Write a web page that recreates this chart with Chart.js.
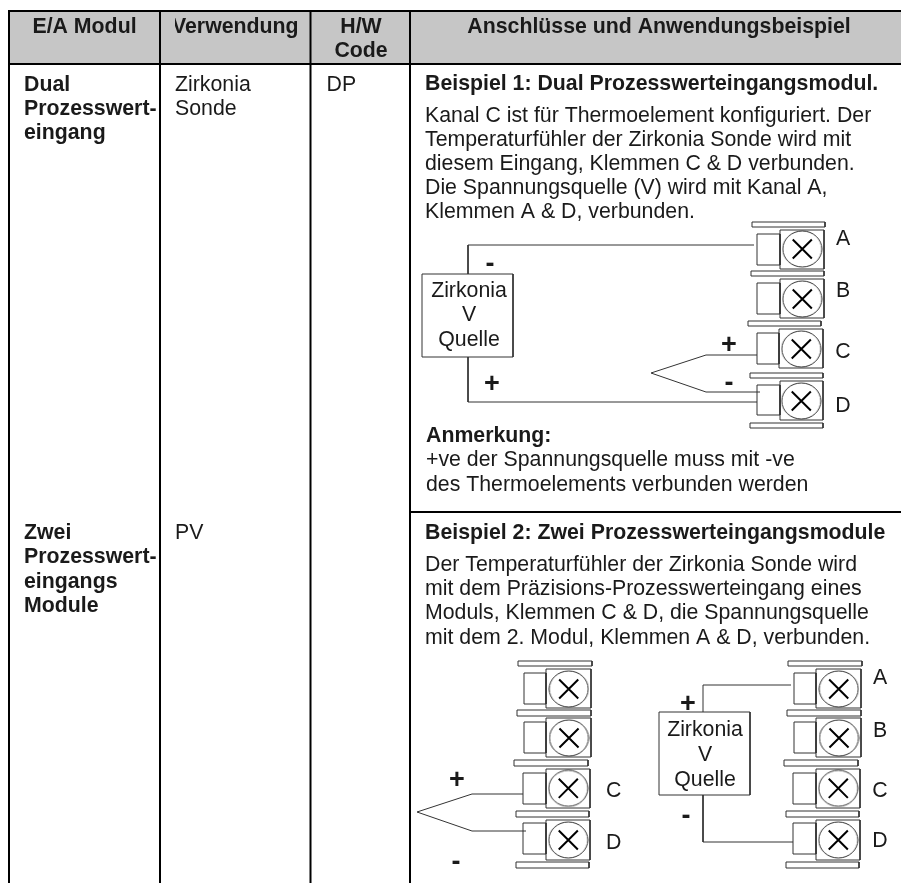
<!DOCTYPE html>
<html>
<head>
<meta charset="utf-8">
<title>E/A Modul</title>
<script src="https://cdn.jsdelivr.net/npm/chart.js@4"></script>
<style>
    html, body { margin: 0; padding: 0; background: #fff; }
    canvas { display: block; }
</style>
</head>
<body>
<canvas id="chart" width="901" height="883"></canvas>
<script>
// Table text
const headerLabels = ['E/A Modul', 'Verwendung', 'H/W', 'Code', 'Anschlüsse und Anwendungsbeispiel'];
const moduleOne = ['Dual', 'Prozesswert-', 'eingang'];
const moduleTwo = ['Zwei', 'Prozesswert-', 'eingangs', 'Module'];
const useOne = ['Zirkonia', 'Sonde'];
const useTwo = ['PV'];
const hwCode = ['DP'];
const titleOne = 'Beispiel 1: Dual Prozesswerteingangsmodul.';
const bodyOne = [
    'Kanal C ist für Thermoelement konfiguriert. Der',
    'Temperaturfühler der Zirkonia Sonde wird mit',
    'diesem Eingang, Klemmen C & D verbunden.',
    'Die Spannungsquelle (V) wird mit Kanal A,',
    'Klemmen A & D, verbunden.'
];
const noteTitle = 'Anmerkung:';
const noteLines = ['+ve der Spannungsquelle muss mit -ve', 'des Thermoelements verbunden werden'];
const titleTwo = 'Beispiel 2: Zwei Prozesswerteingangsmodule';
const bodyTwo = [
    'Der Temperaturfühler der Zirkonia Sonde wird',
    'mit dem Präzisions-Prozesswerteingang eines',
    'Moduls, Klemmen C & D, die Spannungsquelle',
    'mit dem 2. Modul, Klemmen A & D, verbunden.'
];
const sourceLines = ['Zirkonia', 'V', 'Quelle'];
const terminalNames = ['A', 'B', 'C', 'D'];

// Table rules, as [x0, y0, x1, y1] on the page scale
const tableRules = [
    [8, 11, 901, 11], [8, 64, 901, 64], [410, 512, 901, 512],
    [9, 11, 9, 883], [160, 11, 160, 883], [310.5, 11, 310.5, 883], [410, 11, 410, 883]
];
const headerBand = [[9, 11], [901, 11], [901, 64], [9, 64]];

// Terminal blocks of each diagram, [left, right, top, bottom]
const spacers1 = [[752, 825, 222, 227], [751, 824, 271, 276], [748, 821, 321, 326], [750, 823, 373, 378], [750, 823, 423, 428]];
const housings1 = [[780, 824, 230, 269], [780, 824, 279, 318], [779, 823, 329, 368], [780, 823, 381, 420]];
const plugs1 = [[757, 780, 234, 265], [757, 780, 283, 314], [757, 779, 333, 364], [757, 780, 385, 415]];
const screws1 = [[802.3, 249], [802.3, 299], [801.3, 349], [801.3, 401]];

const spacers2 = [[518, 592, 661, 666], [517, 591, 710, 716], [514, 588, 760, 766], [516, 589, 811, 817], [516, 589, 862, 868]];
const housings2 = [[546, 591, 669, 708], [546, 591, 718, 757], [546, 590, 769, 808], [546, 590, 820, 860]];
const plugs2 = [[524, 546, 673, 704], [524, 546, 722, 753], [523, 546, 773, 804], [523, 546, 823, 854]];
const screws2 = [[568.7, 689], [569, 738], [568.3, 788.3], [568.3, 840]];

const spacers3 = [[788, 862, 661, 666], [787, 861, 710, 716], [784, 858, 760, 766], [786, 859, 811, 817], [786, 859, 862, 868]];
const housings3 = [[816, 861, 669, 708], [816, 861, 718, 757], [816, 860, 769, 808], [816, 860, 820, 860]];
const plugs3 = [[794, 816, 673, 704], [794, 816, 722, 753], [793, 816, 773, 804], [793, 816, 823, 854]];
const screws3 = [[838.7, 689], [839, 738], [838.3, 788.3], [838.3, 840]];

// Wiring
const wires = [
    [[754, 245], [468, 245], [468, 274]],
    [[468, 357], [468, 402], [757, 402]],
    [[757, 355], [706, 355], [651, 373], [706, 392], [760, 392]],
    [[523, 794], [472, 794], [417, 812], [472, 831], [526, 831]],
    [[703, 712], [703, 685], [791, 685]],
    [[703, 795], [703, 842], [793, 842]]
];
const sourceBoxes = [[422, 513, 274, 357], [659, 750, 712, 795]];

const allBoxes = [].concat(spacers1, housings1, plugs1, spacers2, housings2, plugs2, spacers3, housings3, plugs3, sourceBoxes);
const allScrews = [].concat(screws1, screws2, screws3);

const toPoints = pts => pts.map(p => ({ x: p[0], y: p[1] }));
const boxPoints = b => toPoints([[b[0], b[2]], [b[1], b[2]], [b[1], b[3]], [b[0], b[3]], [b[0], b[2]]]);

// Screw heads are slightly flattened, so the point style is a small ellipse picture
const screwHead = document.createElement('canvas');
screwHead.width = 41;
screwHead.height = 38;
const headCtx = screwHead.getContext('2d');
headCtx.strokeStyle = '#333';
headCtx.lineWidth = 1;
headCtx.beginPath();
headCtx.ellipse(20.5, 19, 19.5, 18, 0, 0, Math.PI * 2);
headCtx.stroke();

const datasets = [];

datasets.push({
    data: toPoints(headerBand),
    showLine: true, fill: 'shape', backgroundColor: '#c6c6c6',
    borderWidth: 0, pointRadius: 0
});

tableRules.forEach(r => {
    datasets.push({
        data: toPoints([[r[0], r[1]], [r[2], r[3]]]),
        showLine: true, borderColor: '#000', borderWidth: 2, pointRadius: 0
    });
});

allBoxes.forEach(b => {
    datasets.push({
        data: boxPoints(b),
        showLine: true, borderColor: '#333', borderWidth: 1, pointRadius: 0
    });
});

wires.forEach(w => {
    datasets.push({
        data: toPoints(w),
        showLine: true, borderColor: '#333', borderWidth: 1, pointRadius: 0
    });
});

datasets.push({
    data: toPoints(allScrews),
    showLine: false, pointStyle: screwHead, pointRadius: 19
});
datasets.push({
    data: toPoints(allScrews),
    showLine: false, pointStyle: 'crossRot', pointRadius: 13.5,
    pointBorderColor: '#000', pointBorderWidth: 2
});

const TEXT = '#1a1a1a';
const FONT = '"Liberation Sans", Arial, sans-serif';
const SIZE = 21.3;
const SIGN_SIZE = 27;

function drawLines(chart, lines, x, y, step, bold, align, clip, size) {
    const ctx = chart.ctx;
    const sx = chart.scales.x, sy = chart.scales.y;
    ctx.save();
    if (clip) {
        ctx.beginPath();
        ctx.rect(sx.getPixelForValue(clip[0]), 0, sx.getPixelForValue(clip[1]) - sx.getPixelForValue(clip[0]), chart.height);
        ctx.clip();
    }
    ctx.fillStyle = TEXT;
    ctx.font = (bold ? 'bold ' : '') + (size || SIZE) + 'px ' + FONT;
    ctx.textAlign = align || 'left';
    ctx.textBaseline = 'alphabetic';
    lines.forEach((line, i) => {
        ctx.fillText(line, sx.getPixelForValue(x), sy.getPixelForValue(y + i * step));
    });
    ctx.restore();
}

function drawSign(chart, sign, x, y) {
    drawLines(chart, [sign], x, y, 0, true, 'center', null, SIGN_SIZE);
}

const tableText = {
    id: 'tableText',
    afterDatasetsDraw(chart) {
        // Kopfzeile
        drawLines(chart, [headerLabels[0]], 84.5, 33, 0, true, 'center');
        drawLines(chart, [headerLabels[1]], 172, 33, 0, true, 'left', [175, 297]);
        drawLines(chart, [headerLabels[2], headerLabels[3]], 361, 33, 24.3, true, 'center');
        drawLines(chart, [headerLabels[4]], 659, 33, 0, true, 'center');

        // Linke Spalten
        drawLines(chart, moduleOne, 24, 91, 24.2, true);
        drawLines(chart, moduleTwo, 24, 539, 24.3, true);
        drawLines(chart, useOne, 175, 91, 24.2, false);
        drawLines(chart, useTwo, 175, 539, 24, false);
        drawLines(chart, hwCode, 326.5, 91, 24, false);

        // Beispiel 1
        drawLines(chart, [titleOne], 425, 90, 0, true);
        drawLines(chart, bodyOne, 425, 121.5, 24, false);
        drawLines(chart, [noteTitle], 426, 441.5, 0, true);
        drawLines(chart, noteLines, 426, 466, 24.5, false);

        // Beispiel 2
        drawLines(chart, [titleTwo], 425, 539, 0, true);
        drawLines(chart, bodyTwo, 425, 571, 24.2, false);

        // Quellen und Klemmen
        drawLines(chart, sourceLines, 469, 296.7, 24.7, false, 'center');
        drawLines(chart, sourceLines, 705, 736, 24.8, false, 'center');
        [245, 297, 358, 412].forEach((y, i) => drawLines(chart, [terminalNames[i]], 843, y, 0, false, 'center'));
        [2, 3].forEach((n, i) => drawLines(chart, [terminalNames[n]], 613.7, [797, 849][i], 0, false, 'center'));
        [684, 737, 797, 847].forEach((y, i) => drawLines(chart, [terminalNames[i]], 880, y, 0, false, 'center'));

        // Polaritaet
        drawSign(chart, '-', 490, 272);
        drawSign(chart, '+', 492, 392);
        drawSign(chart, '+', 729, 353);
        drawSign(chart, '-', 729, 391);
        drawSign(chart, '+', 457, 788);
        drawSign(chart, '-', 456, 870);
        drawSign(chart, '+', 688, 712);
        drawSign(chart, '-', 686, 824);
    }
};

new Chart(document.getElementById('chart').getContext('2d'), {
    type: 'scatter',
    data: { datasets: datasets },
    options: {
        responsive: false,
        animation: false,
        layout: { padding: 0, autoPadding: false },
        elements: { line: { tension: 0 } },
        scales: {
            x: { type: 'linear', min: 0, max: 901, display: false },
            y: { type: 'linear', min: 0, max: 883, reverse: true, display: false }
        },
        plugins: {
            legend: { display: false },
            tooltip: { enabled: false },
            filler: { drawTime: 'beforeDatasetsDraw' }
        }
    },
    plugins: [tableText]
});
</script>
</body>
</html>
